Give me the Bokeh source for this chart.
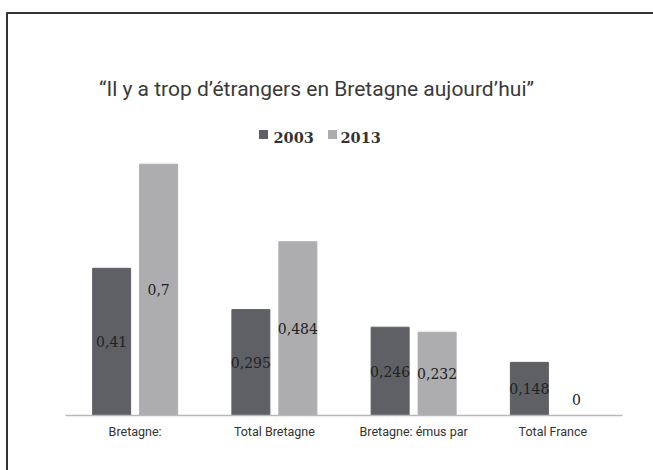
from bokeh.plotting import figure
from bokeh.models import ColumnDataSource, Range1d
from bokeh.transform import dodge
from bokeh.core.properties import value
from bokeh.embed import file_html
from bokeh.resources import INLINE

# ---- data ----
categories = ["Bretagne:", "Total Bretagne", "Bretagne: émus par", "Total France"]
series = ["2003", "2013"]
v2003 = [0.41, 0.295, 0.246, 0.148]
v2013 = [0.7, 0.484, 0.232, 0.0]
labels2003 = ["0,41", "0,295", "0,246", "0,148"]
labels2013 = ["0,7", "0,484", "0,232", "0"]
title_text = "\u201cIl y a trop d\u2019\u00e9trangers en Bretagne aujourd\u2019hui\u201d"

# ---- layout constants (pixels) ----
W, H = 653, 470
PX_X = 139.25          # px per category
X0_PX = 65             # left end of category axis
BASE_PX = 415          # baseline from top
PX_Y = 359             # px per unit value

x_start = -0.5 - X0_PX / PX_X
x_end = x_start + W / PX_X
y_start = -(H - BASE_PX) / PX_Y
y_end = BASE_PX / PX_Y

def dx(px):
    return x_start + px / PX_X

def dy(px):
    return (BASE_PX - px) / PX_Y

DARK = "#5f6065"
LIGHT = "#adadb0"
TXT = "#333333"

p = figure(width=W, height=H, output_backend="svg", toolbar_location=None,
           x_range=Range1d(x_start, x_end), y_range=Range1d(y_start, y_end),
           min_border=0, min_border_left=0, min_border_right=0,
           min_border_top=0, min_border_bottom=0)
p.axis.visible = False
p.grid.visible = False
p.outline_line_color = None
p.background_fill_color = "white"
p.border_fill_color = "white"

idx = list(range(len(categories)))
src = ColumnDataSource(dict(
    idx=idx, cat=categories, v2003=v2003, v2013=v2013,
    l2003=labels2003, l2013=labels2013,
    y2003=[max(v / 2, 0.045) for v in v2003],
    y2013=[max(v / 2, 0.045) for v in v2013],
))

BW = 38 / PX_X
OFF = 23.5 / PX_X

p.vbar(x=dodge("idx", -OFF, range=p.x_range), top="v2003", bottom=0, width=BW,
       source=src, fill_color=DARK, line_color=DARK)
p.vbar(x=dodge("idx", OFF, range=p.x_range), top="v2013", bottom=0, width=BW,
       source=src, fill_color=LIGHT, line_color=LIGHT)

# value labels
for col_y, col_l, off in (("y2003", "l2003", -OFF), ("y2013", "l2013", OFF)):
    p.text(x=dodge("idx", off, range=p.x_range), y=col_y, text=col_l, source=src,
           text_align="center", text_baseline="middle",
           text_font=value("DejaVu Serif"), text_font_size="14px", text_color="#222222")

# category axis line
p.segment(x0=[-0.5], y0=[0], x1=[len(categories) - 0.5], y1=[0],
          line_color="#b8b8b8", line_width=1.5)

# category labels
p.text(x="idx", y=dy(431), text="cat", source=src, text_align="center",
       text_baseline="middle", text_font=value("Roboto"), text_font_size="12.5px",
       text_color=TXT)

# title
p.text(x=[dx(316)], y=[dy(88)], text=[title_text], text_align="center",
       text_baseline="middle", text_font=value("Roboto"), text_font_size="21px",
       text_color="#3a3a3a")

# legend (custom)
leg_sq_px = [263, 332]
leg_tx_px = [273, 340]
p.rect(x=[dx(v) for v in leg_sq_px], y=[dy(134)] * 2, width=9 / PX_X, height=9 / PX_Y,
       fill_color=[DARK, LIGHT], line_color=None)
p.text(x=[dx(v) for v in leg_tx_px], y=[dy(137)] * 2, text=series,
       text_align="left", text_baseline="middle", text_font=value("DejaVu Serif"),
       text_font_size="14.5px", text_font_style="bold", text_color=TXT)

# frame lines (top and left)
p.segment(x0=[dx(6), dx(6.5)], y0=[dy(12.5), dy(12)], x1=[dx(W), dx(6.5)], y1=[dy(12.5), dy(H)],
          line_color="#333333", line_width=2)

open("out.html", "w").write(file_html(p, INLINE))
